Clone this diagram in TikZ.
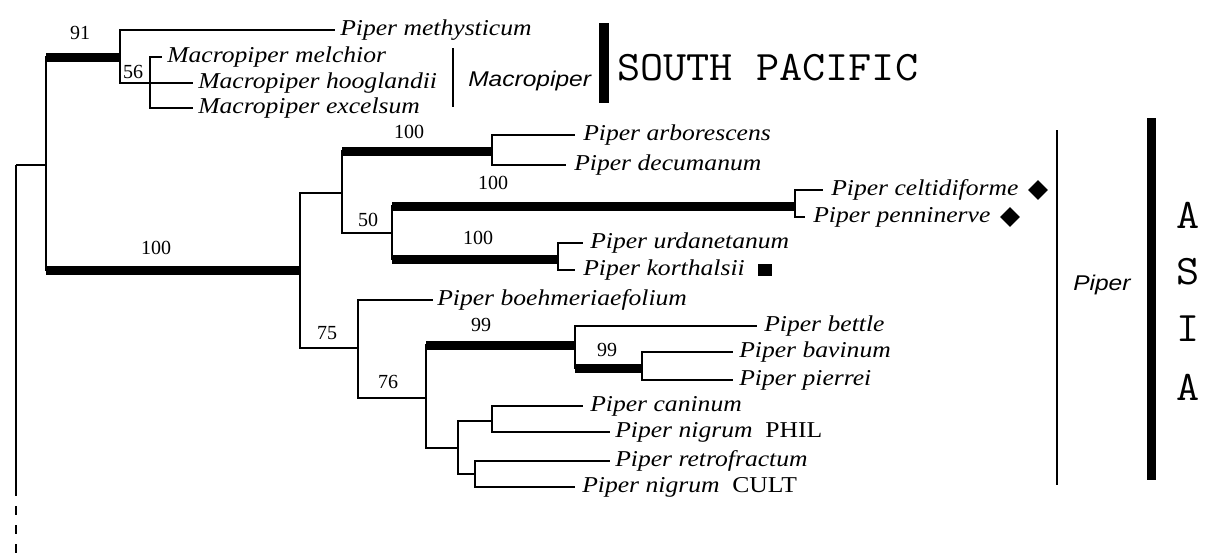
\documentclass[tikz,border=0pt]{standalone}
\usepackage{fontspec}
\setmainfont{Liberation Serif}
\newfontfamily\lsans{Liberation Sans}
\usetikzlibrary{shapes.geometric}
\newcommand\sx[1]{\scalebox{1.13}[1]{#1}}
\newcommand\sxs[1]{\scalebox{1.15}[1]{#1}}
\newcommand\sxm[1]{\scalebox{1.07}[1]{#1}}
\begin{document}
\begin{tikzpicture}[x=0.75pt,y=-0.75pt,
  br/.style={line width=1.5pt, line join=miter},
  thk/.style={line width=6.75pt, line cap=butt},
  dsh/.style={line width=1.5pt, dash pattern=on 6.75pt off 7.5pt},
  tiplab/.style={anchor=base west, inner sep=0pt, font=\fontsize{17}{20}\selectfont\itshape},
  num/.style={inner sep=0pt, font=\fontsize{15}{18}\selectfont},
  grp/.style={anchor=base west, inner sep=0pt, font=\lsans\fontsize{16}{19}\selectfont\itshape},
  geo/.style={inner sep=0pt, font=\ttfamily\fontsize{31.5}{36}\selectfont},
  dmd/.style={diamond, fill=black, inner sep=0pt, minimum width=15pt, minimum height=15pt},
  sq/.style={rectangle, fill=black, inner sep=0pt, minimum width=10.5pt, minimum height=9.5pt},
  gbar/.style={line width=1.5pt},
  gbarthick/.style={line width=7.5pt}
]
\useasboundingbox (0,0) rectangle (1205,558);

% internal nodes
\coordinate (R) at (16,165);
\coordinate (Rb) at (16,487);
\coordinate (Re) at (16,553);
\coordinate (A) at (46,165);
\coordinate (B) at (120,57);
\coordinate (D) at (150,83);
\coordinate (C) at (300,270);
\coordinate (E) at (342,193);
\coordinate (G) at (492,151);
\coordinate (H) at (392,233);
\coordinate (I) at (795,206);
\coordinate (J) at (558,259);
\coordinate (F) at (358,348);
\coordinate (K) at (426,398);
\coordinate (L) at (575,345);
\coordinate (N) at (642,368);
\coordinate (M) at (458,448);
\coordinate (O) at (492,421);
\coordinate (P) at (475,474);

% tips: name, line end x, y, text x, text
\newcommand\taxon[5]{%
  \coordinate (#1) at (#2,#3);
  \node[tiplab] (#1l) at (#4,#3+5) {\sx{#5}};}
\taxon{meth}{335}{30}{340}{Piper methysticum}
\taxon{melc}{162}{57}{167}{Macropiper melchior}
\taxon{hoog}{193}{83}{198}{Macropiper hooglandii}
\taxon{exce}{193}{108}{198}{Macropiper excelsum}
\taxon{arbo}{575}{135}{583}{Piper arborescens}
\taxon{decu}{566}{165}{574}{Piper decumanum}
\taxon{celt}{823}{190}{831}{Piper celtidiforme}
\taxon{penn}{805}{217}{813}{Piper penninerve}
\taxon{urda}{583}{243}{590}{Piper urdanetanum}
\taxon{kort}{575}{270}{583}{Piper korthalsii}
\taxon{boeh}{433}{300}{437}{Piper boehmeriaefolium}
\taxon{bett}{757}{326}{764}{Piper bettle}
\taxon{bavi}{733}{352}{739}{Piper bavinum}
\taxon{pier}{733}{380}{739}{Piper pierrei}
\taxon{cani}{583}{406}{590}{Piper caninum}
\taxon{nigp}{610}{432}{615}{Piper nigrum\hspace{0.5em}\upshape PHIL}
\taxon{retr}{610}{461}{615}{Piper retrofractum}
\taxon{nigc}{575}{487}{582}{Piper nigrum\hspace{0.5em}\upshape CULT}

% root
\draw[br] (R) -- (Rb);
\draw[dsh] (Rb) -- (Re);
\draw[br] (R) -- (A);
% tree
\draw[br] (A) |- (B); \draw[br] (A) |- (C);
\draw[thk] (A |- B) -- (B); \draw[thk] (A |- C) -- (C);
\draw[br] (B) |- (meth); \draw[br] (B) |- (D);
\draw[br] (D) |- (melc); \draw[br] (D) -- (hoog); \draw[br] (D) |- (exce);
\draw[br] (C) |- (E); \draw[br] (C) |- (F);
\draw[br] (E) |- (G); \draw[br] (E) |- (H);
\draw[thk] (E |- G) -- (G);
\draw[br] (G) |- (arbo); \draw[br] (G) |- (decu);
\draw[br] (H) |- (I); \draw[br] (H) |- (J);
\draw[thk] (H |- I) -- (I); \draw[thk] (H |- J) -- (J);
\draw[br] (I) |- (celt); \draw[br] (I) |- (penn);
\draw[br] (J) |- (urda); \draw[br] (J) |- (kort);
\draw[br] (F) |- (boeh); \draw[br] (F) |- (K);
\draw[br] (K) |- (L); \draw[br] (K) |- (M);
\draw[thk] (K |- L) -- (L);
\draw[br] (L) |- (bett); \draw[br] (L) |- (N);
\draw[thk] (L |- N) -- (N);
\draw[br] (N) |- (bavi); \draw[br] (N) |- (pier);
\draw[br] (M) |- (O); \draw[br] (M) |- (P);
\draw[br] (O) |- (cani); \draw[br] (O) |- (nigp);
\draw[br] (P) |- (retr); \draw[br] (P) |- (nigc);

% support values
\node[num] (s91) at (80,33) {91};
\node[num] (s56) at (133,72) {56};
\node[num] (s100a) at (156,248) {100};
\node[num] (s100b) at (409,132) {100};
\node[num] (s50) at (368,220) {50};
\node[num] (s100c) at (493,183) {100};
\node[num] (s100d) at (478,238) {100};
\node[num] (s75) at (327,333) {75};
\node[num] (s76) at (388,382) {76};
\node[num] (s99a) at (481,325) {99};
\node[num] (s99b) at (607,350) {99};

% markers
\node[dmd] (d1) at (1038,190) {};
\node[dmd] (d2) at (1010,217) {};
\node[sq] (q1) at (765,270) {};

% group bars and labels
\draw[gbar] (453,48) -- (453,107);
\node[grp] (macro) at (468,86) {\sxs{Macropiper}};
\draw[gbarthick] (604,23) -- (604,103);
\node[geo, anchor=base west] (sp) at (617,80) {\sxm{SOUTH PACIFIC}};
\draw[gbar] (1057,130) -- (1057,485);
\node[grp] (piper) at (1073,290) {\sxs{Piper}};
\draw[line width=6.75pt] (1151,118) -- (1151,480);
\node[geo] (a1) at (1188,215) {\sxm{A}};
\node[geo] (a2) at (1188,272) {\sxm{S}};
\node[geo] (a3) at (1188,329) {\sxm{I}};
\node[geo] (a4) at (1188,387) {\sxm{A}};
\end{tikzpicture}
\end{document}
